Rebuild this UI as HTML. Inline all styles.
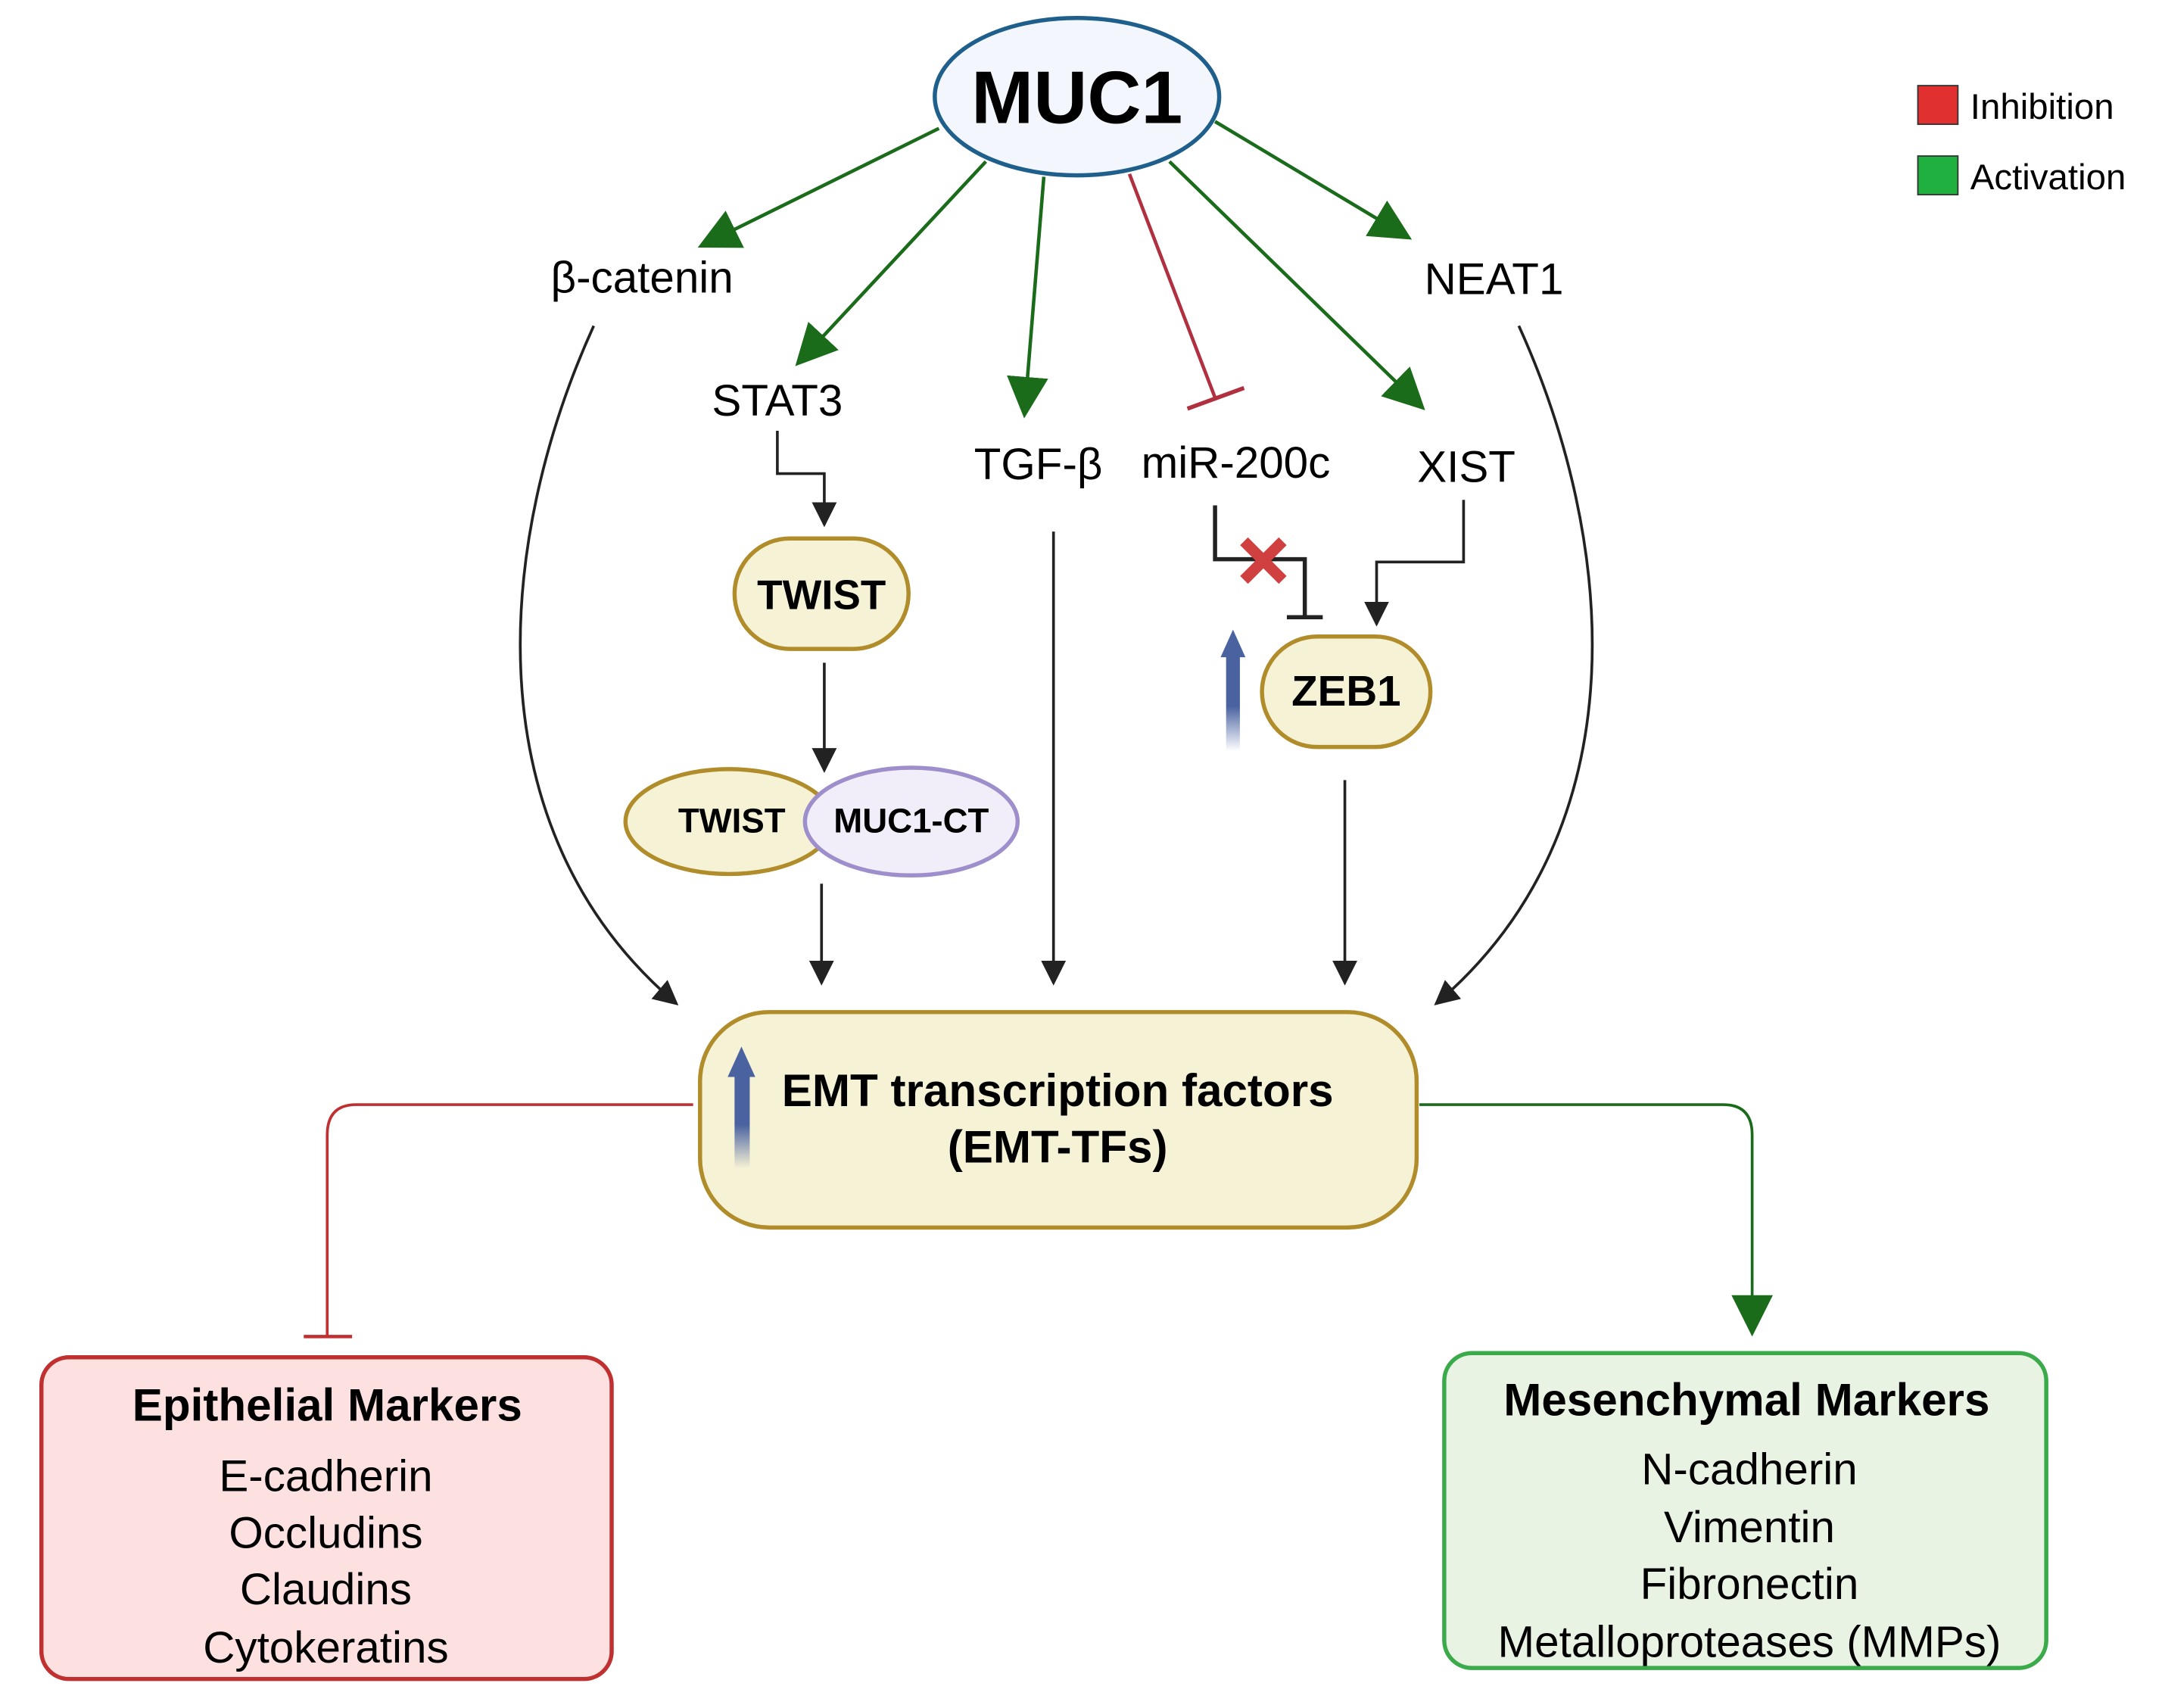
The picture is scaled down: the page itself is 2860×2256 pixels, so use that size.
<!DOCTYPE html>
<html><head><meta charset="utf-8"><style>html,body{margin:0;padding:0;background:#fff}svg{display:block}text{font-family:"Liberation Sans",sans-serif}</style></head><body>
<svg width="2860" height="2256" viewBox="0 0 1568 1237" preserveAspectRatio="none" xmlns="http://www.w3.org/2000/svg">
<defs>
<marker id="gb" viewBox="0 0 10 10" refX="9" refY="5" markerWidth="30" markerHeight="30" markerUnits="userSpaceOnUse" orient="auto"><path d="M0,0L10,5L0,10z" fill="#1a6b1a"/></marker>
<marker id="k" viewBox="0 0 10 10" refX="9" refY="5" markerWidth="18" markerHeight="18" markerUnits="userSpaceOnUse" orient="auto"><path d="M0,0L10,5L0,10z" fill="#222"/></marker>
<linearGradient id="bl" x1="0" y1="1" x2="0" y2="0"><stop offset="0" stop-color="#4a63a0" stop-opacity="0"/><stop offset="0.45" stop-color="#4a63a0"/><stop offset="1" stop-color="#4a63a0"/></linearGradient>
</defs>
<rect x="1389" y="62" width="29" height="28" fill="#e03030" stroke="#333"/>
<text x="1427" y="86" font-size="26">Inhibition</text>
<rect x="1389" y="113" width="29" height="28" fill="#20b040" stroke="#333"/>
<text x="1427" y="137" font-size="26">Activation</text>
<g stroke="#1a6b1a" stroke-width="2.5" fill="none">
<line x1="680" y1="93" x2="508" y2="178" marker-end="url(#gb)"/>
<line x1="714" y1="117" x2="578" y2="263" marker-end="url(#gb)"/>
<line x1="756" y1="128" x2="742" y2="300" marker-end="url(#gb)"/>
<line x1="847" y1="117" x2="1030" y2="295" marker-end="url(#gb)"/>
<line x1="880" y1="88" x2="1020" y2="172" marker-end="url(#gb)"/>
</g>
<line x1="818" y1="126" x2="880" y2="288" stroke="#b03040" stroke-width="2.5"/>
<line x1="860" y1="296" x2="901" y2="281" stroke="#b03040" stroke-width="3"/>
<ellipse cx="780" cy="70" rx="103" ry="57" fill="#f3f7fd" stroke="#1f5f8b" stroke-width="3"/>
<text x="780" y="89" font-size="54" font-weight="bold" text-anchor="middle">MUC1</text>
<g font-size="32" text-anchor="middle">
<text x="465" y="212">β-catenin</text>
<text x="563" y="301">STAT3</text>
<text x="752" y="347">TGF-β</text>
<text x="895" y="346">miR-200c</text>
<text x="1062" y="349">XIST</text>
<text x="1082" y="213">NEAT1</text>
</g>
<g stroke="#222" stroke-width="2" fill="none">
<polyline points="563,312 563,343 597,343 597,380" marker-end="url(#k)"/>
<line x1="597" y1="480" x2="597" y2="558" marker-end="url(#k)"/>
<line x1="595" y1="640" x2="595" y2="712" marker-end="url(#k)"/>
<line x1="763" y1="385" x2="763" y2="712" marker-end="url(#k)"/>
<line x1="974" y1="565" x2="974" y2="712" marker-end="url(#k)"/>
<polyline points="1060,362 1060,407 997,407 997,452" marker-end="url(#k)"/>
<path d="M430,236 C360,390 340,600 490,727" marker-end="url(#k)"/>
<path d="M1100,236 C1170,390 1190,600 1040,727" marker-end="url(#k)"/>
</g>
<polyline points="880,366 880,405 945,405 945,447" stroke="#222" stroke-width="3" fill="none"/>
<line x1="932" y1="447" x2="958" y2="447" stroke="#222" stroke-width="3"/>
<g stroke="#d04040" stroke-width="8"><line x1="901" y1="392" x2="929" y2="420"/><line x1="929" y1="392" x2="901" y2="420"/></g>
<rect x="532" y="390" width="126" height="80" rx="40" fill="#f6f2d6" stroke="#b08d2a" stroke-width="3"/>
<text x="595" y="441" font-size="30" font-weight="bold" text-anchor="middle">TWIST</text>
<ellipse cx="528" cy="595" rx="75" ry="38" fill="#f6f2d6" stroke="#b08d2a" stroke-width="3"/>
<ellipse cx="660" cy="595" rx="77" ry="39" fill="#f1eefa" stroke="#9e8fcc" stroke-width="3"/>
<text x="530" y="603" font-size="25" font-weight="bold" text-anchor="middle">TWIST</text>
<text x="660" y="603" font-size="25" font-weight="bold" text-anchor="middle">MUC1-CT</text>
<rect x="888" y="472" width="10" height="72" fill="url(#bl)"/>
<path d="M884,476 L893,456 L902,476z" fill="#4a63a0"/>
<rect x="914" y="461" width="122" height="80" rx="40" fill="#f6f2d6" stroke="#b08d2a" stroke-width="3"/>
<text x="975" y="511" font-size="31" font-weight="bold" text-anchor="middle">ZEB1</text>
<path d="M502,800 L258,800 Q237,800 237,822 L237,968" stroke="#c03030" stroke-width="2" fill="none"/>
<line x1="220" y1="968" x2="255" y2="968" stroke="#c03030" stroke-width="2.5"/>
<path d="M1028,800 L1248,800 Q1269,800 1269,822 L1269,965" stroke="#1a6b1a" stroke-width="2" fill="none" marker-end="url(#gb)"/>
<rect x="507" y="733" width="519" height="156" rx="50" fill="#f6f2d6" stroke="#b08d2a" stroke-width="3"/>
<rect x="532" y="776" width="11" height="70" fill="url(#bl)"/>
<path d="M527,780 L537,758 L547,780z" fill="#4a63a0"/>
<text x="766" y="801" font-size="33" font-weight="bold" text-anchor="middle">EMT transcription factors</text>
<text x="766" y="842" font-size="33" font-weight="bold" text-anchor="middle">(EMT-TFs)</text>
<rect x="30" y="983" width="413" height="233" rx="20" fill="#fde0e0" stroke="#c03030" stroke-width="3"/>
<g font-size="32" text-anchor="middle">
<text x="237" y="1029" font-weight="bold" font-size="33">Epithelial Markers</text>
<text x="236" y="1080">E-cadherin</text>
<text x="236" y="1121">Occludins</text>
<text x="236" y="1162">Claudins</text>
<text x="236" y="1204">Cytokeratins</text>
</g>
<rect x="1046" y="980" width="436" height="228" rx="20" fill="#e8f3e4" stroke="#3aaa4a" stroke-width="3"/>
<g font-size="32" text-anchor="middle">
<text x="1265" y="1025" font-weight="bold" font-size="33">Mesenchymal Markers</text>
<text x="1267" y="1075">N-cadherin</text>
<text x="1267" y="1117">Vimentin</text>
<text x="1267" y="1158">Fibronectin</text>
<text x="1267" y="1200">Metalloproteases (MMPs)</text>
</g>
</svg>
</body></html>
